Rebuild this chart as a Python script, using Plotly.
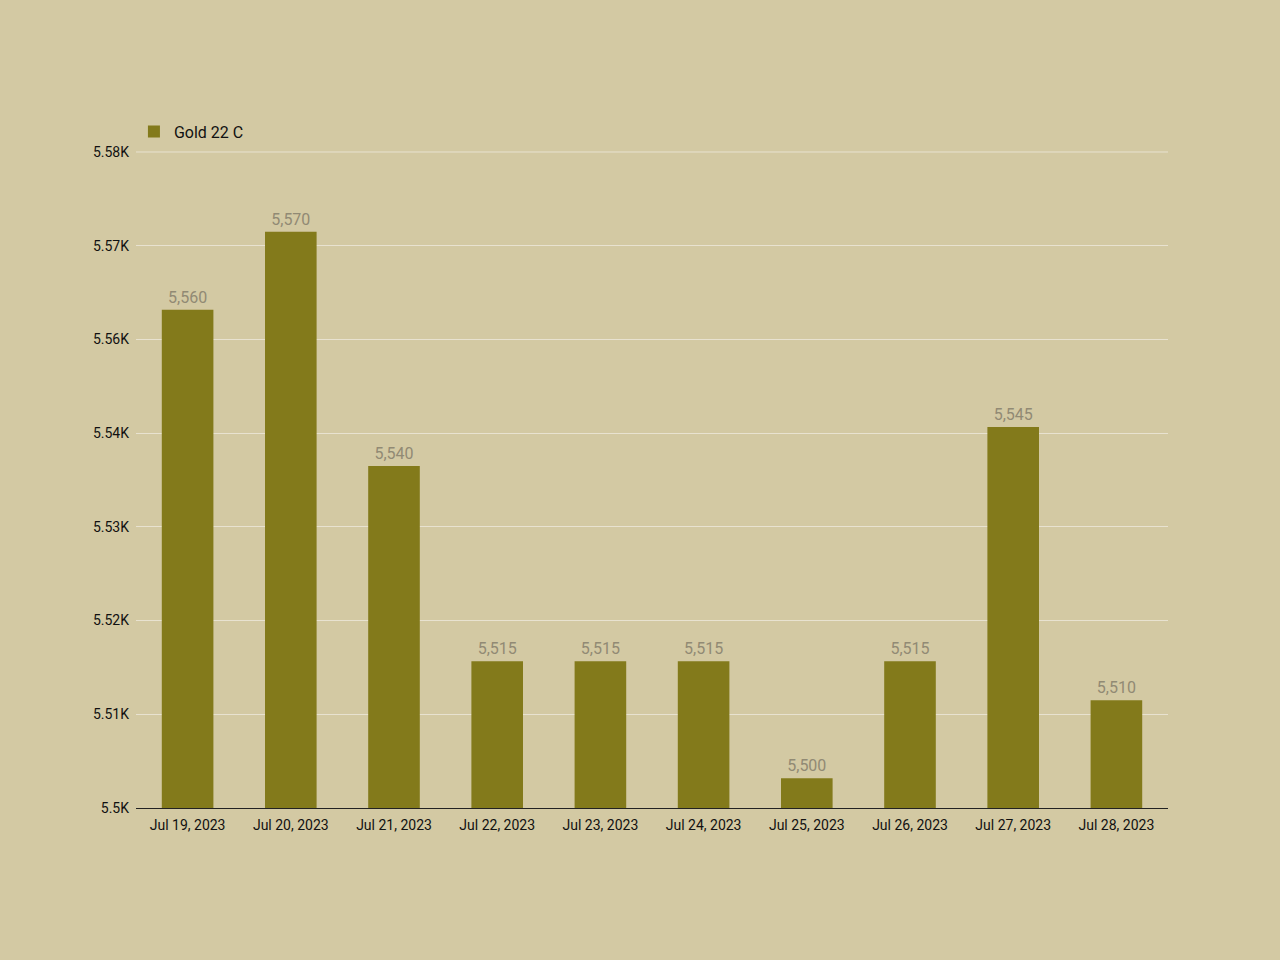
import plotly.graph_objects as go

# daily 22 carat gold rate
dates = ["Jul 19, 2023", "Jul 20, 2023", "Jul 21, 2023", "Jul 22, 2023", "Jul 23, 2023",
         "Jul 24, 2023", "Jul 25, 2023", "Jul 26, 2023", "Jul 27, 2023", "Jul 28, 2023"]
rates = [5560, 5570, 5540, 5515, 5515, 5515, 5500, 5515, 5545, 5510]

# y axis as it appears: 7 even steps, labels rounded to 0.01K
Y_MIN = 5496.2
Y_STEP = 12.0
N_STEPS = 7

BG = "#d3c9a3"
BAR = "#837a1b"
GRID = "#e8e2d0"

tickvals = [Y_MIN + i * Y_STEP for i in range(N_STEPS + 1)]
ticktext = [f"{round(v / 1000, 2):g}K" for v in tickvals]

fig = go.Figure()
fig.add_bar(
    x=dates,
    y=rates,
    name="Gold 22 C",
    marker=dict(color=BAR, line=dict(width=0)),
    text=[f"{v:,}" for v in rates],
    textposition="outside",
    textfont=dict(family="Roboto", size=16, color="#918a74"),
    cliponaxis=False,
)

fig.update_layout(
    width=1280,
    height=960,
    paper_bgcolor=BG,
    plot_bgcolor=BG,
    margin=dict(l=136, r=112, t=152, b=152),
    bargap=0.5,
    font=dict(family="Roboto", size=14, color="#111111"),
    showlegend=True,
    legend=dict(x=-0.002, y=1.005, xanchor="left", yanchor="bottom", orientation="h",
                font=dict(size=16, color="#111111"), bgcolor="rgba(0,0,0,0)"),
)
# top gridline (plotly skips the one sitting on the plot edge)
fig.add_shape(type="line", xref="paper", yref="y domain", x0=0, x1=1, y0=1, y1=1,
              line=dict(color=GRID, width=1), layer="below")
fig.update_xaxes(
    showline=True, linecolor="#222222", linewidth=1,
    showgrid=False, ticks="", tickfont=dict(size=14), ticklabelstandoff=4,
)
fig.update_yaxes(
    range=[Y_MIN, Y_MIN + N_STEPS * Y_STEP],
    tickvals=tickvals, ticktext=ticktext,
    showgrid=True, gridcolor=GRID, gridwidth=1,
    zeroline=False, showline=False, ticks="", ticklabelstandoff=6,
    tickfont=dict(size=14),
)

fig.write_html("out.html", config={"displayModeBar": False},
               post_script="document.body.style.margin='0';")
